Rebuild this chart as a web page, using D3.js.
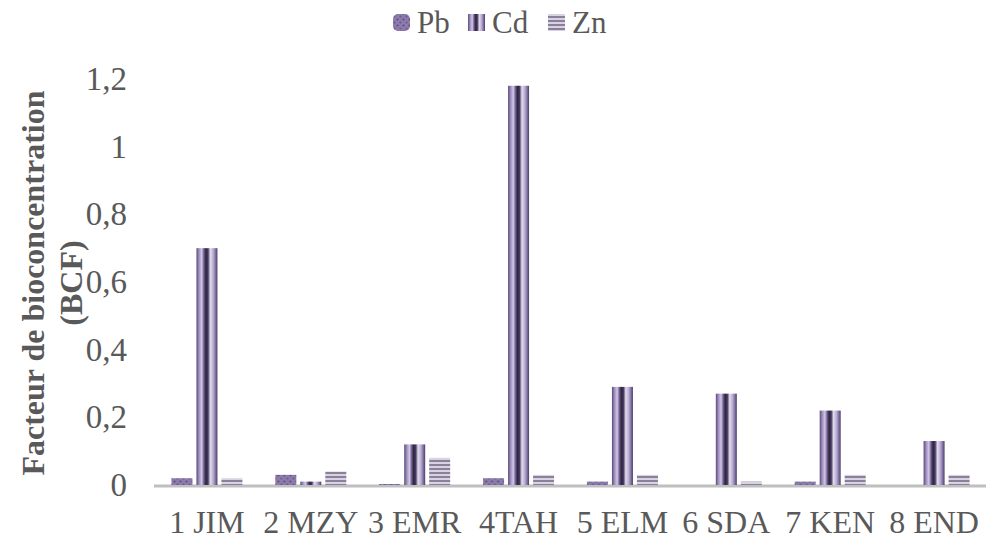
<!DOCTYPE html>
<html>
<head>
<meta charset="utf-8">
<script src="https://cdn.jsdelivr.net/npm/d3@7"></script>
<style>
  body { margin: 0; background: #fff; }
  svg { display: block; }
</style>
</head>
<body>
<svg id="canvas" width="986" height="541"></svg>
<script>
const sites = ["1 JIM", "2 MZY", "3 EMR", "4TAH", "5 ELM", "6 SDA", "7 KEN", "8 END"]
const series = ["Pb", "Cd", "Zn"]
const pbValues = [0.02, 0.03, 0.003, 0.02, 0.01, 0, 0.01, 0]
const cdValues = [0.70, 0.01, 0.12, 1.18, 0.29, 0.27, 0.22, 0.13]
const znValues = [0.02, 0.04, 0.08, 0.03, 0.03, 0.01, 0.03, 0.03]
const yTicks = [0, 0.2, 0.4, 0.6, 0.8, 1, 1.2]

const valuesBySeries = { Pb: pbValues, Cd: cdValues, Zn: znValues }
const serif = "Liberation Serif, Times New Roman, serif"

let canvas = d3.select("#canvas")
let defs = canvas.append("defs")

// Pb : mottled purple
let pb = defs.append("pattern")
  .attr("id", "fill-Pb")
  .attr("patternUnits", "userSpaceOnUse")
  .attr("width", 6).attr("height", 6)
pb.append("rect").attr("width", 6).attr("height", 6).attr("fill", "#8c7bab")
pb.append("circle").attr("cx", 1.5).attr("cy", 1.5).attr("r", 1.1).attr("fill", "#5e4d80")
pb.append("circle").attr("cx", 4.5).attr("cy", 4.5).attr("r", 1.1).attr("fill", "#6b5a8c")

// Cd : cylinder-like vertical stripes
let cd = defs.append("linearGradient")
  .attr("id", "fill-Cd")
  .attr("x1", "0%").attr("x2", "100%").attr("y1", "0%").attr("y2", "0%")
const cdStops = [
  [0, "#5a4a7a"], [0.12, "#9d8dbd"], [0.25, "#d2c8e6"], [0.36, "#6a5a8a"],
  [0.45, "#2f2540"], [0.55, "#463a5e"], [0.66, "#e2dcef"], [0.8, "#b9acd2"],
  [0.92, "#7a6a9a"], [1, "#4a3d66"]
]
cdStops.forEach((s) => {
  cd.append("stop").attr("offset", s[0]).attr("stop-color", s[1])
})

// Zn : horizontal stripes
let zn = defs.append("pattern")
  .attr("id", "fill-Zn")
  .attr("patternUnits", "userSpaceOnUse")
  .attr("width", 4).attr("height", 4)
zn.append("rect").attr("width", 4).attr("height", 4).attr("fill", "#d8d2e2")
zn.append("rect").attr("width", 4).attr("height", 2).attr("fill", "#8a8099")

const plotLeft = 155, plotRight = 986, plotBase = 485, plotTop = 79

let x0 = d3.scaleBand().domain(sites).range([plotLeft, plotRight]).padding(0)
const groupWidth = 71
let x1 = d3.scaleBand().domain(series)
  .range([(x0.bandwidth() - groupWidth) / 2, (x0.bandwidth() + groupWidth) / 2])
  .paddingInner(0.16)
let y = d3.scaleLinear().domain([0, 1.2]).range([plotBase, plotTop])

// y axis labels
let yAxis = canvas.append("g")
  .attr("transform", `translate(${plotLeft},0)`)
  .call(d3.axisLeft(y).tickValues(yTicks).tickSize(0).tickPadding(28)
    .tickFormat((d) => String(d).replace(".", ",")))
yAxis.select(".domain").remove()
yAxis.selectAll("text")
  .attr("font-family", serif)
  .attr("font-size", 33)
  .attr("fill", "#595959")

// baseline
canvas.append("line")
  .attr("x1", plotLeft - 1).attr("x2", plotRight)
  .attr("y1", plotBase + 1).attr("y2", plotBase + 1)
  .attr("stroke", "#bfbfbf").attr("stroke-width", 3)

// bars
let groups = canvas.selectAll("g.site")
  .data(sites)
  .enter()
  .append("g")
  .attr("class", "site")
  .attr("transform", (d) => `translate(${x0(d)},0)`)

groups.selectAll("rect")
  .data((d, i) => series.map((s) => ({ s: s, v: valuesBySeries[s][i] })))
  .enter()
  .append("rect")
  .attr("x", (d) => x1(d.s))
  .attr("width", x1.bandwidth())
  .attr("y", (d) => y(d.v))
  .attr("height", (d) => plotBase - y(d.v))
  .attr("fill", (d) => `url(#fill-${d.s})`)

// x axis labels
let xAxis = canvas.append("g")
  .attr("transform", `translate(0,${plotBase})`)
  .call(d3.axisBottom(x0).tickSize(0).tickPadding(0))
xAxis.select(".domain").remove()
xAxis.selectAll("text")
  .attr("y", 48)
  .attr("dy", 0)
  .attr("font-family", serif)
  .attr("font-size", 32)
  .attr("fill", "#595959")

// y title
let title = canvas.append("text")
  .attr("transform", "translate(44,283) rotate(-90)")
  .attr("text-anchor", "middle")
  .attr("font-family", serif)
  .attr("font-weight", "bold")
  .attr("font-size", 32)
  .attr("fill", "#595959")
title.append("tspan").attr("x", 0).attr("dy", 0).text("Facteur de bioconcentration")
title.append("tspan").attr("x", 0).attr("dy", 38).text("(BCF)")

// legend
const legendInfo = [
  { s: "Pb", x: 393 },
  { s: "Cd", x: 468 },
  { s: "Zn", x: 548 }
]
let legend = canvas.append("g")
let lg = legend.selectAll("g")
  .data(legendInfo)
  .enter()
  .append("g")
lg.append("rect")
  .attr("x", (d) => d.x)
  .attr("y", 14)
  .attr("width", 17)
  .attr("height", 17)
  .attr("rx", (d) => d.s === "Pb" ? 5 : 0)
  .attr("fill", (d) => `url(#fill-${d.s})`)
lg.append("text")
  .attr("x", (d) => d.x + 24)
  .attr("y", 33)
  .attr("font-family", serif)
  .attr("font-size", 31)
  .attr("fill", "#595959")
  .text((d) => d.s)
</script>
</body>
</html>
